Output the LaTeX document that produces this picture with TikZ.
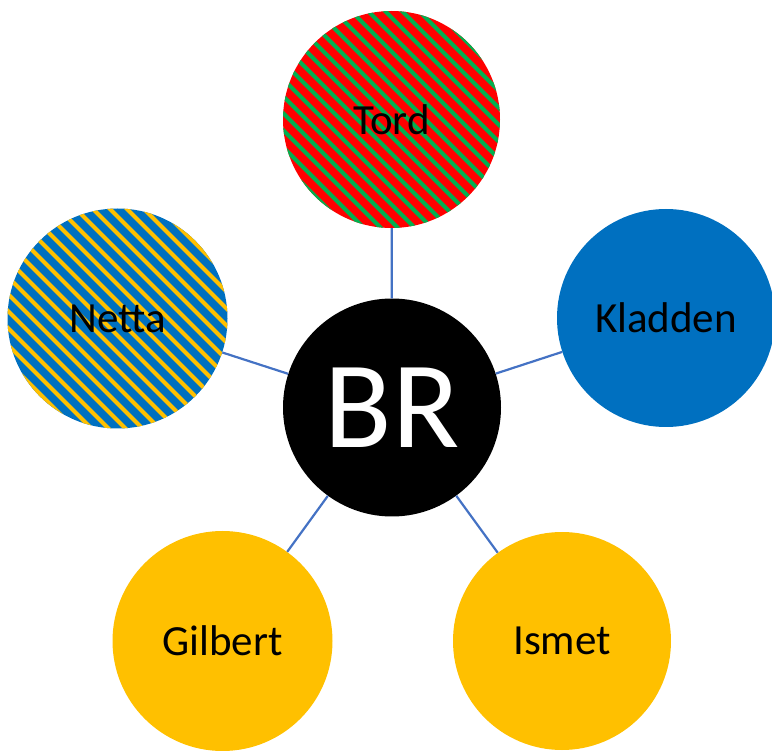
\documentclass[tikz,border=0pt]{standalone}
\usepackage{fontspec}
\setmainfont{Carlito}
\usetikzlibrary{calc}
\definecolor{cred}{HTML}{FF0000}
\definecolor{cgreen}{HTML}{00B050}
\definecolor{cblue}{HTML}{0070C0}
\definecolor{cyellow}{HTML}{FFC000}
\definecolor{cline}{HTML}{4472C4}
\tikzset{
  person/.style={circle, inner sep=0pt, draw=none, minimum size=#1,
    font=\fontsize{43}{50}\selectfont, text=black},
  striped/.style 2 args={fill=#1, path picture={
    \foreach \i in {-14,...,14} {
      \draw[#2, line width=4.2pt]
        ($(path picture bounding box.center)+(\i*8.5,-\i*8.5)+(-170,-170)$) -- ++(340,340);
    }}},
  link/.style={draw=cline, line width=2.2pt}
}
\begin{document}
\begin{tikzpicture}[x=1pt,y=-1pt]
\useasboundingbox (0,0) rectangle (772,751);
\node[person=217pt, striped={cred}{cgreen}] (tord) at (391.5,119.5) {Tord};
\node[person=220pt, striped={cblue}{cyellow}] (netta) at (117.5,318.5) {Netta};
\node[person=218pt, fill=cblue] (kladden) at (666,318) {Kladden};
\node[person=218pt, fill=black, text=white, font=\fontsize{124}{130}\selectfont] (br) at (392,407.5) {BR};
\node[person=220pt, fill=cyellow] (gilbert) at (222.5,641) {Gilbert};
\node[person=218pt, fill=cyellow] (ismet) at (562,641) {Ismet};
\draw[link] (br) -- (tord);
\draw[link] (br) -- (netta);
\draw[link] (br) -- (kladden);
\draw[link] (br) -- (gilbert);
\draw[link] (br) -- (ismet);
\end{tikzpicture}
\end{document}
